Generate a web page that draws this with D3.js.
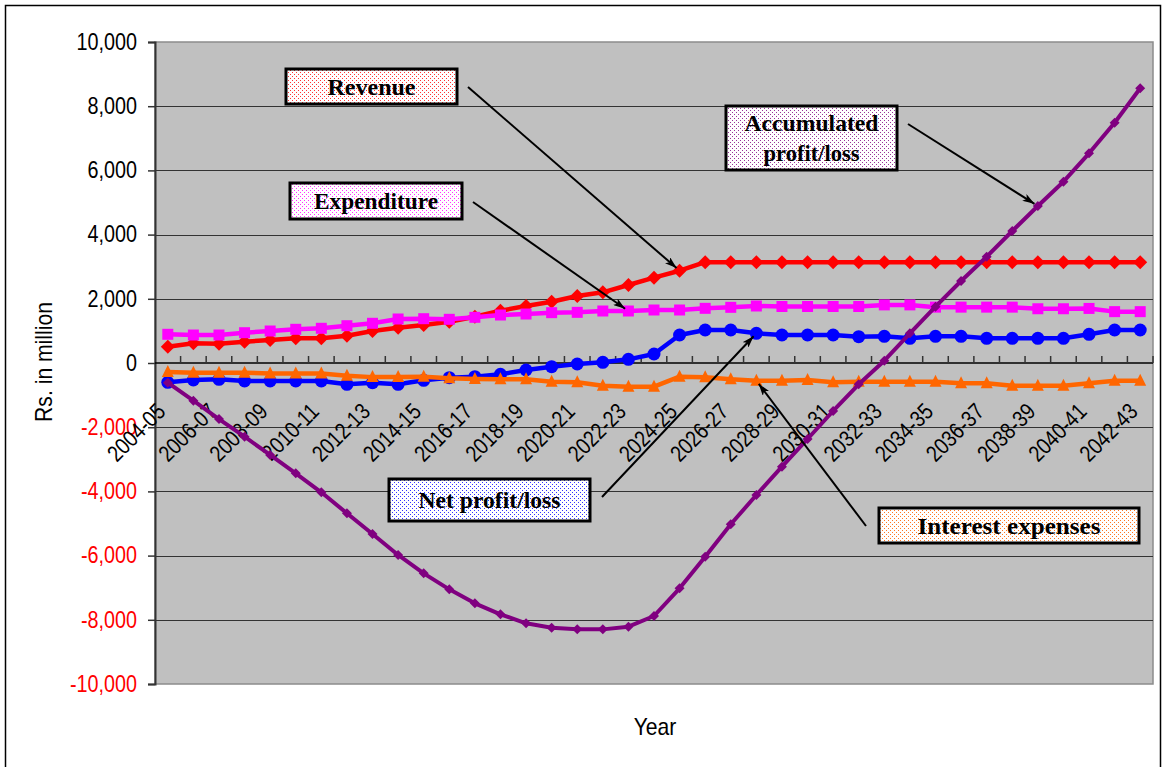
<!DOCTYPE html>
<html>
<head>
<meta charset="utf-8">
<script src="https://cdn.jsdelivr.net/npm/d3@7"></script>
<style>
  html, body { margin: 0; padding: 0; background: #ffffff; }
  svg { display: block; }
</style>
</head>
<body>
<svg id="chart" width="1166" height="767"></svg>
<script>
// Financial years on the category axis
const categories = [
  "2004-05","2005-06","2006-07","2007-08","2008-09","2009-10","2010-11","2011-12",
  "2012-13","2013-14","2014-15","2015-16","2016-17","2017-18","2018-19","2019-20",
  "2020-21","2021-22","2022-23","2023-24","2024-25","2025-26","2026-27","2027-28",
  "2028-29","2029-30","2030-31","2031-32","2032-33","2033-34","2034-35","2035-36",
  "2036-37","2037-38","2038-39","2039-40","2040-41","2041-42","2042-43"
];
// Every other year is labelled
const tickLabels = [
  "2004-05","2006-07","2008-09","2010-11","2012-13","2014-15","2016-17","2018-19",
  "2020-21","2022-23","2024-25","2026-27","2028-29","2030-31","2032-33","2034-35",
  "2036-37","2038-39","2040-41","2042-43"
];
const yTicks = [10000, 8000, 6000, 4000, 2000, 0, -2000, -4000, -6000, -8000, -10000];

// Rs. in million
const revenue = [
  505, 613, 600, 664, 716, 769, 769, 850, 997, 1100, 1184, 1287, 1443, 1630, 1776, 1910,
  2087, 2202, 2430, 2657, 2875, 3140, 3140, 3140, 3140, 3140, 3140, 3140, 3140, 3140,
  3140, 3140, 3140, 3140, 3140, 3140, 3140, 3140, 3140
];
const expenditure = [
  894, 872, 872, 944, 997, 1050, 1081, 1162, 1237, 1371, 1380, 1361, 1423, 1495, 1526, 1568,
  1578, 1620, 1620, 1651, 1651, 1703, 1734, 1776, 1760, 1760, 1760, 1760, 1810, 1810,
  1740, 1740, 1740, 1740, 1690, 1690, 1700, 1600, 1600
];
const netProfit = [
  -601, -530, -508, -561, -561, -561, -561, -664, -613, -664, -540, -457, -426, -353, -218, -114,
  -31, 21, 114, 280, 872, 1028, 1028, 925, 872, 872, 872, 820, 830, 768,
  830, 830, 768, 768, 768, 768, 893, 1028, 1028
];
const interestExpenses = [
  -280, -300, -300, -300, -330, -330, -330, -400, -440, -440, -430, -478, -498, -509, -509, -582,
  -602, -706, -737, -737, -426, -446, -509, -551, -551, -530, -602, -582, -582, -582,
  -582, -634, -634, -706, -706, -706, -634, -551, -551
];
const accumulated = [
  -613, -1174, -1745, -2295, -2866, -3436, -4028, -4683, -5327, -5981, -6553, -7051, -7487, -7829,
  -8110, -8246, -8298, -8298, -8214, -7882, -7019, -6034, -5025, -4112, -3230, -2368, -1495,
  -664, 72, 925, 1755, 2555, 3312, 4112, 4891, 5648, 6533, 7486, 8558
];

const svg = d3.select("#chart");
const plot = { left: 155, right: 1153, top: 42, bottom: 684 };

const x = d3.scaleBand().domain(categories).range([plot.left, plot.right]).padding(0);
const y = d3.scaleLinear().domain([-10000, 10000]).range([plot.bottom, plot.top]);
const cx = c => x(c) + x.bandwidth() / 2;

const sansFont = "'Liberation Sans', Arial, sans-serif";

// outer frame
svg.append("rect")
  .attr("x", 5.5).attr("y", 5.5).attr("width", 1155).attr("height", 800)
  .attr("fill", "#ffffff").attr("stroke", "#000").attr("stroke-width", 1.5);

// dotted fills for the callout boxes
const defs = svg.append("defs");
function dotPattern(id, color) {
  const p = defs.append("pattern").attr("id", id)
    .attr("width", 4).attr("height", 4).attr("patternUnits", "userSpaceOnUse");
  p.append("rect").attr("width", 4).attr("height", 4).attr("fill", "#ffffff");
  p.append("rect").attr("x", 0).attr("y", 0).attr("width", 1).attr("height", 1).attr("fill", color);
  p.append("rect").attr("x", 2).attr("y", 2).attr("width", 1).attr("height", 1).attr("fill", color);
}
dotPattern("dotRed", "#ff3333");
dotPattern("dotMagenta", "#ff33ff");
dotPattern("dotPurple", "#993399");
dotPattern("dotBlue", "#3333ff");
dotPattern("dotOrange", "#ff7722");

defs.append("marker").attr("id", "arrow")
  .attr("viewBox", "0 0 12 8").attr("refX", 12).attr("refY", 4)
  .attr("markerWidth", 12).attr("markerHeight", 8).attr("markerUnits", "userSpaceOnUse")
  .attr("orient", "auto")
  .append("path").attr("d", "M0,0 L12,4 L0,8 L3,4 Z").attr("fill", "#000");

// plot background
svg.append("rect")
  .attr("x", plot.left).attr("y", plot.top)
  .attr("width", plot.right - plot.left).attr("height", plot.bottom - plot.top)
  .attr("fill", "#c0c0c0").attr("stroke", "#8c8c8c").attr("stroke-width", 1.5);

// horizontal gridlines
svg.append("g").selectAll("line")
  .data(yTicks.filter(v => v !== 0 && v !== 10000 && v !== -10000))
  .join("line")
  .attr("x1", plot.left).attr("x2", plot.right)
  .attr("y1", d => Math.round(y(d)) + 0.5).attr("y2", d => Math.round(y(d)) + 0.5)
  .attr("stroke", "#333").attr("stroke-width", 1);

// y axis
const fmt = d3.format(",");
const yAxis = d3.axisLeft(y).tickValues(yTicks).tickSize(7).tickPadding(0)
  .tickFormat(d => fmt(d).replace("\u2212", "-"));
const gy = svg.append("g").attr("transform", `translate(${plot.left},0)`).call(yAxis);
gy.select(".domain").attr("stroke", "#333").attr("stroke-width", 2);
gy.selectAll(".tick line").attr("stroke", "#333").attr("stroke-width", 1.5);
gy.selectAll(".tick text")
  .attr("x", null)
  .attr("transform", "translate(-18,0) scale(0.86,1)")
  .attr("font-family", sansFont)
  .attr("font-size", 23)
  .attr("fill", d => d < 0 ? "#ff0000" : "#000");

// x axis along zero with ticks at category boundaries
const zeroY = y(0);
const gx = svg.append("g");
gx.append("line")
  .attr("x1", plot.left).attr("x2", plot.right)
  .attr("y1", zeroY).attr("y2", zeroY)
  .attr("stroke", "#000").attr("stroke-width", 1.5);
gx.selectAll("line.tk").data(categories.slice(1).concat(["__end"]))
  .join("line").attr("class", "tk")
  .attr("x1", (d, i) => plot.left + (i + 1) * x.bandwidth())
  .attr("x2", (d, i) => plot.left + (i + 1) * x.bandwidth())
  .attr("y1", zeroY).attr("y2", zeroY - 7)
  .attr("stroke", "#333").attr("stroke-width", 1.5);
gx.selectAll("text").data(tickLabels).join("text")
  .attr("transform", d => `translate(${cx(d) - 1},${zeroY + 50}) rotate(-45) scale(0.84,1)`)
  .attr("text-anchor", "end")
  .attr("font-family", sansFont)
  .attr("font-size", 23)
  .attr("fill", "#000")
  .text(d => d);

// series
const series = [
  { name: "Revenue", values: revenue, color: "#ff0000", width: 4.5, marker: "diamond", size: 14 },
  { name: "Expenditure", values: expenditure, color: "#ff00ff", width: 4.5, marker: "square", size: 11 },
  { name: "Net profit/loss", values: netProfit, color: "#0000ff", width: 4.5, marker: "circle", size: 13 },
  { name: "Interest expenses", values: interestExpenses, color: "#ff6600", width: 4.5, marker: "triangle", size: 12 },
  { name: "Accumulated profit/loss", values: accumulated, color: "#800080", width: 4, marker: "diamond", size: 10 }
];

const line = d3.line().x((d, i) => cx(categories[i])).y(d => y(d));

function markerPath(type, s) {
  const h = s / 2;
  if (type === "diamond") return `M0,${-h} L${h},0 L0,${h} L${-h},0 Z`;
  if (type === "square") return `M${-h},${-h} H${h} V${h} H${-h} Z`;
  if (type === "triangle") return `M0,${-h - 1} L${h},${h - 1} L${-h},${h - 1} Z`;
  return d3.symbol(d3.symbolCircle, Math.PI * h * h)();
}

series.forEach(s => {
  const g = svg.append("g");
  g.append("path").datum(s.values)
    .attr("d", line).attr("fill", "none")
    .attr("stroke", s.color).attr("stroke-width", s.width)
    .attr("stroke-linejoin", "round");
  g.selectAll("path.m").data(s.values).join("path").attr("class", "m")
    .attr("transform", (d, i) => `translate(${cx(categories[i])},${y(d)})`)
    .attr("d", markerPath(s.marker, s.size))
    .attr("fill", s.color);
});

// callouts
const callouts = [
  { lines: ["Revenue"], fill: "url(#dotRed)", box: [286, 69, 171, 35], widths: [88],
    from: [468, 87], to: [categories[20], revenue[20]] },
  { lines: ["Expenditure"], fill: "url(#dotMagenta)", box: [290, 183, 172, 36], widths: [124],
    from: [473, 202], to: [categories[18], expenditure[18]] },
  { lines: ["Accumulated", "profit/loss"], fill: "url(#dotPurple)", box: [726, 106, 171, 64], widths: [134, 96],
    from: [908, 124], to: [categories[34], accumulated[34]] },
  { lines: ["Net profit/loss"], fill: "url(#dotBlue)", box: [389, 479, 201, 42], widths: [142],
    from: [602, 497], to: [categories[23], netProfit[23]] },
  { lines: ["Interest expenses"], fill: "url(#dotOrange)", box: [879, 508, 260, 35], widths: [183],
    from: [866, 526], to: [categories[23], interestExpenses[23]] }
];

callouts.forEach(c => {
  const tx = cx(c.to[0]), ty = y(c.to[1]);
  const dx = tx - c.from[0], dy = ty - c.from[1];
  const len = Math.hypot(dx, dy);
  const stop = 4;
  svg.append("line")
    .attr("x1", c.from[0]).attr("y1", c.from[1])
    .attr("x2", tx - dx / len * stop).attr("y2", ty - dy / len * stop)
    .attr("stroke", "#000").attr("stroke-width", 2)
    .attr("marker-end", "url(#arrow)");
});

callouts.forEach(c => {
  const [bx, by, bw, bh] = c.box;
  const g = svg.append("g");
  g.append("rect").attr("x", bx).attr("y", by).attr("width", bw).attr("height", bh)
    .attr("fill", c.fill).attr("stroke", "#000").attr("stroke-width", 3);
  const lh = 30;
  const y0 = by + bh / 2 - (c.lines.length - 1) * lh / 2 + 8;
  c.lines.forEach((t, i) => {
    g.append("text")
      .attr("x", bx + bw / 2).attr("y", y0 + i * lh)
      .attr("text-anchor", "middle")
      .attr("font-family", "'Liberation Serif', 'Times New Roman', serif")
      .attr("font-weight", "bold").attr("font-size", 23)
      .attr("textLength", c.widths[i]).attr("lengthAdjust", "spacingAndGlyphs")
      .attr("fill", "#000")
      .text(t);
  });
});

// axis titles
svg.append("text")
  .attr("transform", `translate(52,${362}) rotate(-90) scale(0.92,1)`)
  .attr("text-anchor", "middle")
  .attr("font-family", sansFont)
  .attr("font-size", 23).attr("fill", "#000")
  .text("Rs. in million");

svg.append("text")
  .attr("transform", "translate(655,735) scale(0.92,1)")
  .attr("text-anchor", "middle")
  .attr("font-family", sansFont)
  .attr("font-size", 23).attr("fill", "#000")
  .text("Year");
</script>
</body>
</html>
